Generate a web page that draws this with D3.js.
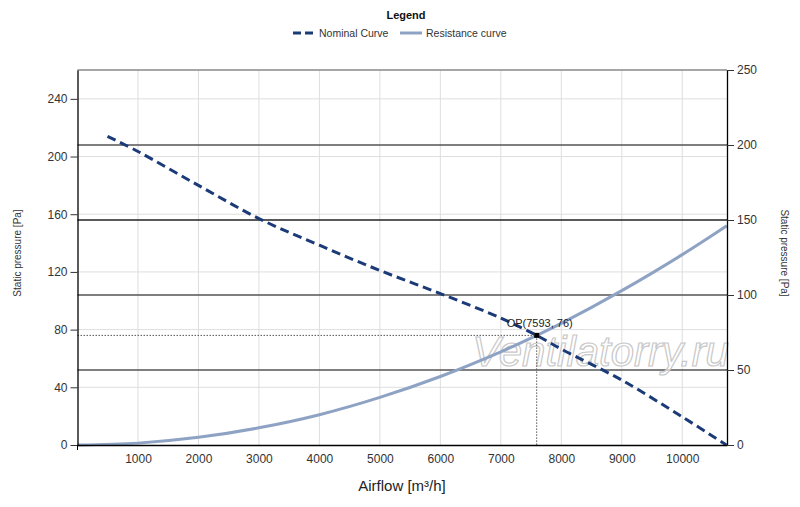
<!DOCTYPE html>
<html>
<head>
<meta charset="utf-8">
<script src="https://cdn.jsdelivr.net/npm/d3@7"></script>
<style>
  body { margin: 0; background: #fff; }
  text { font-family: "Liberation Sans", Arial, sans-serif; }
</style>
</head>
<body>
<div id="chart"></div>
<script>
// curve data (airflow m3/h, static pressure Pa)
const nominalFlow = [496, 1000, 2000, 3000, 4000, 5000, 6000, 7000, 7593, 8000, 9000, 10000, 10730];
const nominalPressure = [214, 203.5, 180, 157, 138.5, 121, 105, 88, 76, 66.5, 45, 19.5, 0];

const resistanceFlow = [0, 1000, 2000, 3000, 4000, 5000, 6000, 7000, 7593, 8000, 9000, 10000, 10737];
const resistancePressure = [0, 1.3, 5.3, 11.9, 21, 33, 47.5, 64.6, 76, 84.3, 107, 132, 152];

const opPoint = { flow: 7593, pressure: 76 };

const xTicks = [1000, 2000, 3000, 4000, 5000, 6000, 7000, 8000, 9000, 10000];
const leftTicks = [0, 40, 80, 120, 160, 200, 240];
const rightTicks = [0, 50, 100, 150, 200, 250];

const width = 800;
const height = 507;
const margin = { top: 70, right: 73, bottom: 62, left: 77.5 };
const innerW = width - margin.left - margin.right;
const innerH = height - margin.top - margin.bottom;

const navy = "#1b3a78";
const lightBlue = "#8ea3c4";

const svg = d3.select("#chart")
  .append("svg")
  .attr("width", width)
  .attr("height", height);

const g = svg.append("g")
  .attr("transform", `translate(${margin.left},${margin.top})`);

const x = d3.scaleLinear().domain([0, 10740]).range([0, innerW]);
const yLeft = d3.scaleLinear().domain([0, 260]).range([innerH, 0]);
const yRight = d3.scaleLinear().domain([0, 250]).range([innerH, 0]);

// light grid
g.append("g")
  .selectAll("line")
  .data(xTicks)
  .enter()
  .append("line")
  .attr("x1", d => x(d))
  .attr("x2", d => x(d))
  .attr("y1", 0)
  .attr("y2", innerH)
  .attr("stroke", "#dedede")
  .attr("stroke-width", 1);

g.append("g")
  .selectAll("line")
  .data(leftTicks.slice(1))
  .enter()
  .append("line")
  .attr("x1", 0)
  .attr("x2", innerW)
  .attr("y1", d => yLeft(d))
  .attr("y2", d => yLeft(d))
  .attr("stroke", "#dedede")
  .attr("stroke-width", 1);

// dark grid on the right axis ticks
g.append("g")
  .selectAll("line")
  .data(rightTicks.slice(1, -1))
  .enter()
  .append("line")
  .attr("x1", 0)
  .attr("x2", innerW)
  .attr("y1", d => yRight(d))
  .attr("y2", d => yRight(d))
  .attr("stroke", d => d === 150 ? "#222" : "#555")
  .attr("stroke-width", 1.3);

// top border
g.append("line")
  .attr("x1", 0).attr("x2", innerW)
  .attr("y1", 0).attr("y2", 0)
  .attr("stroke", "#888")
  .attr("stroke-width", 1.5);

// watermark
g.append("text")
  .attr("x", x(8650))
  .attr("y", yLeft(55))
  .attr("text-anchor", "middle")
  .style("font-size", "42px")
  .style("font-style", "italic")
  .style("fill", "#ffffff")
  .style("fill-opacity", 0.6)
  .style("stroke", "#c8c8c8")
  .style("stroke-width", 1.2)
  .text("Ventilatorry.ru");

// operating point guides
g.append("line")
  .attr("x1", 0).attr("x2", x(opPoint.flow))
  .attr("y1", yLeft(opPoint.pressure)).attr("y2", yLeft(opPoint.pressure))
  .attr("stroke", "#555").attr("stroke-width", 1)
  .attr("stroke-dasharray", "1.5,1.5");

g.append("line")
  .attr("x1", x(opPoint.flow)).attr("x2", x(opPoint.flow))
  .attr("y1", yLeft(opPoint.pressure)).attr("y2", innerH)
  .attr("stroke", "#555").attr("stroke-width", 1)
  .attr("stroke-dasharray", "1.5,1.5");

// curves
const resistanceData = resistanceFlow.map((f, i) => [f, resistancePressure[i]]);
const nominalData = nominalFlow.map((f, i) => [f, nominalPressure[i]]);

const line = d3.line()
  .x(d => x(d[0]))
  .y(d => yLeft(d[1]))
  .curve(d3.curveCatmullRom.alpha(0.5));

g.append("path")
  .datum(resistanceData)
  .attr("d", line)
  .attr("fill", "none")
  .attr("stroke", lightBlue)
  .attr("stroke-width", 3);

g.append("path")
  .datum(nominalData)
  .attr("d", line)
  .attr("fill", "none")
  .attr("stroke", navy)
  .attr("stroke-width", 3)
  .attr("stroke-dasharray", "9,5");

// operating point marker + label
g.append("rect")
  .attr("x", x(opPoint.flow) - 2.5)
  .attr("y", yLeft(opPoint.pressure) - 2.5)
  .attr("width", 5)
  .attr("height", 5)
  .attr("fill", "#000");

g.append("text")
  .attr("x", x(opPoint.flow) - 30)
  .attr("y", yLeft(opPoint.pressure) - 8)
  .style("font-size", "11px")
  .style("fill", "#222")
  .text(`OP(${opPoint.flow}, ${opPoint.pressure})`);

// axes
const xAxis = g.append("g")
  .attr("transform", `translate(0,${innerH})`)
  .call(d3.axisBottom(x).tickValues(xTicks).tickFormat(d3.format("d"))
    .tickSize(0).tickPadding(9).tickSizeOuter(0));

const leftAxis = g.append("g")
  .call(d3.axisLeft(yLeft).tickValues(leftTicks).tickSize(7).tickPadding(3).tickSizeOuter(0));

const rightAxis = g.append("g")
  .attr("transform", `translate(${innerW},0)`)
  .call(d3.axisRight(yRight).tickValues(rightTicks).tickSize(7).tickPadding(3).tickSizeOuter(0));

[xAxis, leftAxis, rightAxis].forEach(a => {
  a.select(".domain").attr("stroke", "#000").attr("stroke-width", 1.3);
  a.selectAll(".tick line").attr("stroke", "#333");
  a.selectAll("text")
    .style("font-size", "12px")
    .style("fill", "#333")
    .style("font-family", "'Liberation Sans', Arial, sans-serif");
});

// origin tick below x axis
g.append("line")
  .attr("x1", 0).attr("x2", 0)
  .attr("y1", innerH).attr("y2", innerH + 5)
  .attr("stroke", "#000");

// axis titles
svg.append("text")
  .attr("x", 402)
  .attr("y", 491)
  .attr("text-anchor", "middle")
  .style("font-size", "15px")
  .style("fill", "#222")
  .text("Airflow [m³/h]");

svg.append("text")
  .attr("transform", "translate(21,253) rotate(-90)")
  .attr("text-anchor", "middle")
  .style("font-size", "10px")
  .style("fill", "#333")
  .text("Static pressure [Pa]");

svg.append("text")
  .attr("transform", "translate(781,253) rotate(90)")
  .attr("text-anchor", "middle")
  .style("font-size", "10px")
  .style("fill", "#333")
  .text("Static pressure [Pa]");

// legend
svg.append("text")
  .attr("x", 406)
  .attr("y", 19)
  .attr("text-anchor", "middle")
  .style("font-size", "11px")
  .style("font-weight", "bold")
  .style("fill", "#111")
  .text("Legend");

const legendItems = [
  { label: "Nominal Curve", color: navy, dash: "8,4", x: 293 },
  { label: "Resistance curve", color: lightBlue, dash: null, x: 400 }
];

const legend = svg.append("g").attr("transform", "translate(0,33)");
legend.selectAll("line")
  .data(legendItems)
  .enter()
  .append("line")
  .attr("x1", d => d.x)
  .attr("x2", d => d.x + 22)
  .attr("y1", 0)
  .attr("y2", 0)
  .attr("stroke", d => d.color)
  .attr("stroke-width", 3)
  .attr("stroke-dasharray", d => d.dash);

legend.selectAll("text")
  .data(legendItems)
  .enter()
  .append("text")
  .attr("x", d => d.x + 26)
  .attr("y", 4)
  .style("font-size", "10.5px")
  .style("fill", "#333")
  .text(d => d.label);
</script>
</body>
</html>
